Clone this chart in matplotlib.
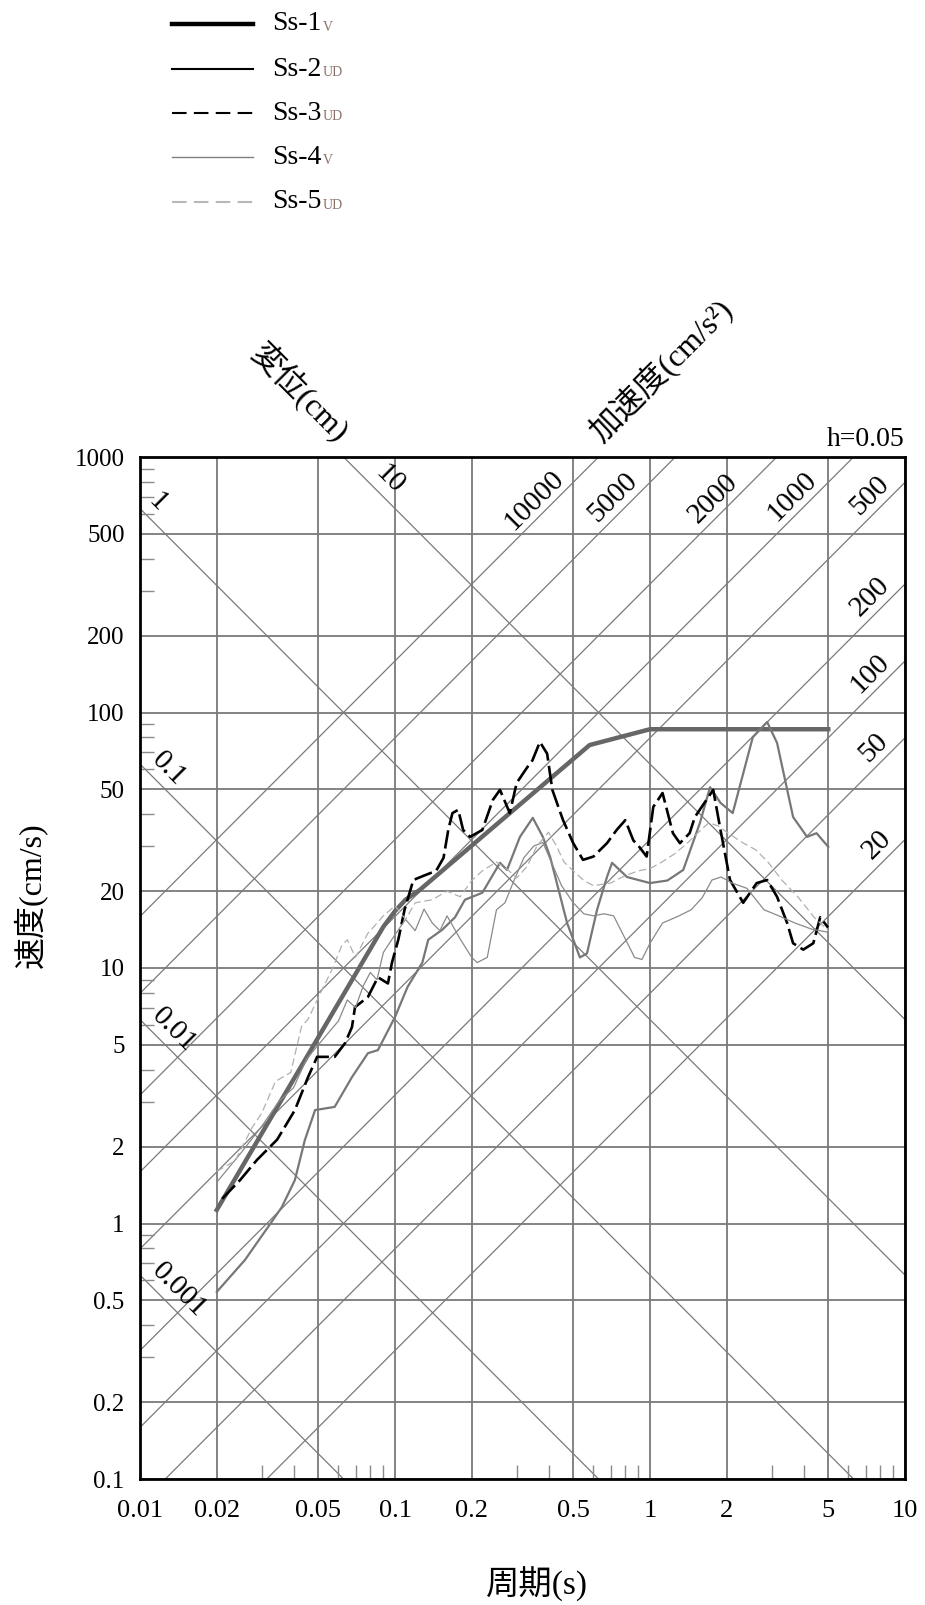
import matplotlib.pyplot as plt
import numpy as np
from matplotlib.ticker import FixedLocator, NullFormatter

# response spectra: period (s) vs pseudo velocity (cm/s)
ss1_t = [0.02, 0.09, 0.1, 0.11, 0.125, 0.58, 1.0, 5.0]
ss1_v = [1.13, 14.5, 16.7, 18.5, 20.2, 74.6, 86, 86]

ss2_t = [0.02, 0.0258, 0.0318, 0.036, 0.0405, 0.0443, 0.0486, 0.058, 0.0678, 0.0783,
         0.0857, 0.1, 0.112, 0.128, 0.135, 0.153, 0.172, 0.188, 0.22, 0.258, 0.275,
         0.309, 0.347, 0.38, 0.406, 0.473, 0.531, 0.566, 0.62, 0.678, 0.71, 0.813,
         1.0, 1.17, 1.35, 1.57, 1.72, 1.89, 2.11, 2.53, 2.88, 3.15, 3.64, 4.13, 4.5, 5.0]
ss2_v = [0.54, 0.72, 0.97, 1.16, 1.48, 2.12, 2.78, 2.86, 3.74, 4.64,
         4.77, 6.43, 8.43, 10.5, 12.9, 14.1, 15.8, 18.5, 19.7, 25.8, 24.2,
         32.6, 38.7, 32.6, 27.2, 15.0, 11.0, 11.4, 16.9, 22.7, 25.8, 22.7,
         21.5, 22.0, 24.2, 37, 51, 44.3, 40.4, 80, 91.8, 76, 39, 32.6, 33.7, 29.8]

ss3_t = [0.021, 0.0247, 0.0287, 0.0345, 0.0405, 0.0456, 0.0495, 0.058, 0.0637, 0.0678,
         0.0697, 0.0783, 0.0857, 0.0938, 0.0973, 0.103, 0.109, 0.118, 0.13, 0.145,
         0.155, 0.162, 0.168, 0.177, 0.185, 0.197, 0.22, 0.242, 0.258, 0.282, 0.3,
         0.33, 0.346, 0.37, 0.395, 0.414, 0.456, 0.5, 0.546, 0.6, 0.678, 0.74, 0.8,
         0.86, 0.91, 0.97, 1.03, 1.12, 1.23, 1.31, 1.43, 1.5, 1.77, 1.89, 2.06, 2.32,
         2.62, 2.88, 3.15, 3.45, 3.64, 3.99, 4.37, 4.65, 4.99]
ss3_v = [1.25, 1.48, 1.77, 2.13, 2.78, 3.74, 4.49, 4.49, 5.08, 5.87,
         7.03, 7.7, 9.2, 8.7, 10.5, 12.9, 16.9, 22.1, 23.0, 24.0,
         27.0, 35.0, 40.4, 41.6, 34.7, 32.6, 34.7, 45.5, 49.8, 40.4, 53,
         61, 65, 76.7, 69, 49.8, 37.9, 30.8, 26.5, 27.3, 30.8, 34.7, 37.9,
         31.6, 29.7, 27.3, 42.7, 48.4, 33.7, 30.8, 33.7, 39, 49.8, 34.7, 22.1, 18.0,
         21.5, 22.1, 19.0, 15.0, 12.5, 11.8, 12.5, 15.8, 14.4]

ss4_t = [0.02, 0.025, 0.03, 0.035, 0.04, 0.045, 0.05, 0.055, 0.06, 0.065, 0.07, 0.075,
         0.08, 0.085, 0.09, 0.1, 0.11, 0.12, 0.13, 0.14, 0.15, 0.16, 0.18, 0.2, 0.21,
         0.23, 0.25, 0.27, 0.29, 0.32, 0.35, 0.38, 0.41, 0.45, 0.5, 0.55, 0.6, 0.66,
         0.72, 0.8, 0.87, 0.93, 1.0, 1.12, 1.3, 1.45, 1.6, 1.75, 1.9, 2.1, 2.4, 2.8,
         3.2, 3.7, 4.3, 5.0]
ss4_v = [1.45, 1.9, 2.4, 3.0, 3.4, 4.4, 5.0, 5.6, 6.2, 7.5, 7.0, 8.5,
         9.6, 9.0, 11.5, 13.5, 15.5, 14.0, 17.0, 15.0, 14.0, 16.0, 13.0, 11.0, 10.5,
         11.0, 16.9, 18.0, 21.5, 27.0, 30.0, 31.0, 26.0, 21.0, 18.0, 16.3, 16.0, 16.3,
         16.0, 13.0, 11.0, 10.8, 12.5, 15.0, 16.0, 16.9, 18.8, 22.1, 22.7, 21.5, 20.5, 16.9,
         16.0, 15.0, 14.2, 13.8]

ss5_t = [0.02, 0.0236, 0.0275, 0.03, 0.034, 0.039, 0.043, 0.0456, 0.052, 0.057, 0.062,
         0.065, 0.07, 0.078, 0.09, 0.1, 0.11, 0.12, 0.14, 0.16, 0.18, 0.2, 0.22, 0.25,
         0.28, 0.3, 0.33, 0.36, 0.4, 0.43, 0.46, 0.5, 0.55, 0.6, 0.7, 0.8, 0.9, 1.0,
         1.1, 1.25, 1.4, 1.55, 1.7, 1.85, 2.0, 2.3, 2.6, 2.9, 3.3, 3.8, 4.4, 5.0]
ss5_v = [1.6, 1.76, 2.37, 2.7, 3.6, 3.9, 5.9, 6.3, 8.3, 10.0, 12.3,
         12.9, 11.0, 13.6, 16.0, 17.5, 15.5, 18.0, 18.5, 20.0, 19.0, 22.0, 24.0, 26.0,
         24.0, 22.5, 25.0, 30.0, 34.0, 30.0, 26.0, 24.0, 22.0, 21.0, 21.5, 23.0, 24.0, 24.5,
         25.8, 28.0, 30.8, 34.0, 37.0, 36.0, 34.0, 31.0, 29.0, 26.0, 22.0, 19.0, 15.8, 14.0]

series_t = [ss1_t, ss2_t, ss3_t, ss4_t, ss5_t]
series_v = [ss1_v, ss2_v, ss3_v, ss4_v, ss5_v]
series_names = ['Ss-1', 'Ss-2', 'Ss-3', 'Ss-4', 'Ss-5']
series_subs = ['V', 'UD', 'UD', 'V', 'UD']

# tripartite grid values
accel_values = [10000, 5000, 2000, 1000, 500, 200, 100, 50, 20]   # cm/s^2
disp_values = [10, 1, 0.1, 0.01, 0.001]                           # cm
accel_label_t = [0.35, 0.715, 1.77, 3.6, 7.3, 7.3, 7.3, 7.5, 7.8]
disp_label_t = [0.0938, 0.01155, 0.01276, 0.01335, 0.01397]

x_ticks = [0.01, 0.02, 0.05, 0.1, 0.2, 0.5, 1, 2, 5, 10]
x_tick_labels = ['0.01', '0.02', '0.05', '0.1', '0.2', '0.5', '1', '2', '5', '10']
y_ticks = [0.1, 0.2, 0.5, 1, 2, 5, 10, 20, 50, 100, 200, 500, 1000]
y_tick_labels = ['0.1', '0.2', '0.5', '1', '2', '5', '10', '20', '50', '100', '200', '500', '1000']

W, H = 925, 1605
SERIF = ['Liberation Serif', 'DejaVu Serif']
MIXED = ['Liberation Serif', 'Noto Sans CJK JP', 'DejaVu Sans']
plt.rcParams['font.family'] = SERIF


def fx(px):
    return px / W


def fy(py):
    return 1 - py / H


fig = plt.figure(figsize=(W / 100, H / 100), dpi=100)

# overlay axes in pixel units for the legend and free text
lax = fig.add_axes([0, 0, 1, 1], zorder=0)
lax.set_xlim(0, W)
lax.set_ylim(H, 0)
lax.axis('off')

ax = fig.add_axes([fx(140), fy(1479), fx(905) - fx(140), fy(457) - fy(1479)], zorder=1)
ax.set_xscale('log')
ax.set_yscale('log')
ax.set_xlim(0.01, 10)
ax.set_ylim(0.1, 1000)

grid_col = '#7a7a7a'
ax.set_xticks(x_ticks)
ax.set_xticklabels(x_tick_labels)
ax.set_yticks(y_ticks)
ax.set_yticklabels(y_tick_labels)
ax.grid(True, which='major', color=grid_col, lw=1.3)

minor_x = [k * 10.0 ** n for n in (-2, -1, 0) for k in (3, 4, 6, 7, 8, 9)]
minor_y = [k * 10.0 ** n for n in (-1, 0, 1, 2) for k in (3, 4, 6, 7, 8, 9)]
ax.xaxis.set_minor_locator(FixedLocator(minor_x))
ax.yaxis.set_minor_locator(FixedLocator(minor_y))
ax.xaxis.set_minor_formatter(NullFormatter())
ax.yaxis.set_minor_formatter(NullFormatter())
ax.tick_params(which='major', length=0)
ax.tick_params(axis='x', which='major', pad=15, labelsize=19)
ax.tick_params(axis='y', which='major', pad=11, labelsize=18)
ax.tick_params(which='minor', direction='in', length=10, width=1, color='#8a8a8a',
               top=False, right=False)
for s in ax.spines.values():
    s.set_color('black')
    s.set_linewidth(2)

# diagonal acceleration / displacement lines
tt = np.logspace(-2, 1, 300)
for a, lt in zip(accel_values, accel_label_t):
    ax.plot(tt, a * tt / (2 * np.pi), color=grid_col, lw=0.9, zorder=1)
    ax.annotate(str(a), xy=(lt, a * lt / (2 * np.pi)), xytext=(0, 22),
                textcoords='offset pixels', rotation=45, ha='center', va='center',
                fontsize=21, rotation_mode='anchor')
for d, lt in zip(disp_values, disp_label_t):
    ax.plot(tt, 2 * np.pi * d / tt, color=grid_col, lw=0.9, zorder=1)
    ax.annotate(str(d), xy=(lt, 2 * np.pi * d / lt), xytext=(2, 22),
                textcoords='offset pixels', rotation=-45, ha='center', va='center',
                fontsize=21, rotation_mode='anchor')

# spectra
chart_col = ['#666666', '#777777', 'black', '#8a8a8a', '#b0b0b0']
chart_lw = [3.2, 1.6, 1.9, 0.9, 0.9]
chart_ls = ['-', '-', (0, (7, 2)), '-', (0, (6, 3))]
order = [4, 3, 1, 2, 0]
for i in order:
    ax.plot(series_t[i], series_v[i], color=chart_col[i], lw=chart_lw[i],
            ls=chart_ls[i], zorder=3 + i)

# legend (drawn by hand above the chart)
leg_col = ['black', 'black', 'black', '#808080', '#b8b8b8']
leg_lw = [3.2, 1.5, 1.5, 1.0, 1.5]
leg_ls = ['-', '-', (0, (7, 3.5)), '-', (0, (7, 3.5))]
leg_rows = [24, 69, 113, 157, 202]
for i, yy in enumerate(leg_rows):
    lax.plot([172, 253], [yy, yy], color=leg_col[i], lw=leg_lw[i], ls=leg_ls[i])
    t = lax.text(272, yy, series_names[i], fontsize=20, va='center', ha='left')
    lax.annotate(series_subs[i], xy=(1, 0), xycoords=t, xytext=(1, 2),
                 textcoords='offset points', fontsize=10, color='#8a7068',
                 va='bottom', ha='left')

# axis titles
lax.text(300, 392, '変位(cm)', family=MIXED, fontsize=23, rotation=-45,
         ha='center', va='center', rotation_mode='anchor')
lax.text(660, 370, '加速度(cm/s²)', family=MIXED, fontsize=23, rotation=45,
         ha='center', va='center', rotation_mode='anchor')
lax.text(905, 439, 'h=0.05', fontsize=20, ha='right', va='center')
lax.text(30, 895, '速度(cm/s)', family=MIXED, fontsize=23, rotation=90,
         ha='center', va='center')
lax.text(537, 1584, '周期(s)', family=MIXED, fontsize=24, ha='center', va='center')

fig.savefig('out.png', dpi=100, facecolor='white')
